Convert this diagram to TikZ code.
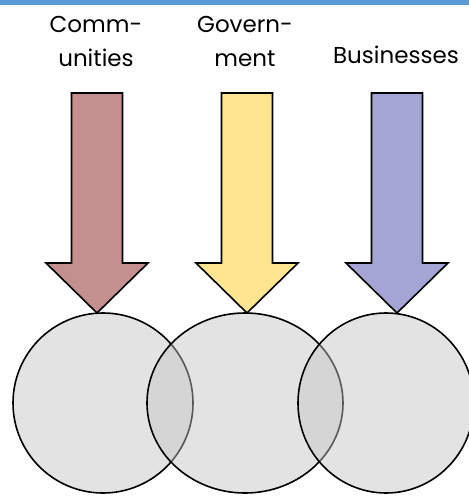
\documentclass[tikz,border=0pt]{standalone}
\usepackage{fontspec}
\setmainfont{Poppins}
\usetikzlibrary{positioning, shapes.geometric}
\definecolor{barblue}{RGB}{91,155,213}
\definecolor{commred}{RGB}{196,143,143}
\definecolor{govyellow}{RGB}{255,229,143}
\definecolor{busblue}{RGB}{165,165,213}
\definecolor{venngray}{RGB}{195,195,195}
\tikzset{
    lbl/.style={font=\fontsize{23}{34}\selectfont, align=center, anchor=base, inner sep=0pt},
    blockarr/.style={draw, line width=1.6pt, line join=miter},
    venn/.style={draw, line width=1.6pt, fill=venngray, fill opacity=0.46, draw opacity=1}
}

\begin{document}
\begin{tikzpicture}[x=1pt, y=-1pt]
    \useasboundingbox (0,0) rectangle (469,496);

    % top bar
    \fill[barblue] (0,0) rectangle (469,4.5);

    % labels
    \node[lbl] (comm) at (96,66) {Comm-\\unities};
    \node[lbl] (gov) at (245,66) {Govern-\\ment};
    \node[lbl] (bus) at (396,63) {Businesses};

    % arrows
    \foreach \x/\col in {97/commred, 247/govyellow, 397/busblue} {
        \draw[blockarr, fill=\col] (\x-25.5,93) -- (\x+25.5,93) -- (\x+25.5,263)
            -- (\x+51,263) -- (\x,313) -- (\x-51,263) -- (\x-25.5,263) -- cycle;
    }

    % circles
    \draw[venn] (103,403) ellipse [x radius=90, y radius=90];
    \draw[venn] (245,403) ellipse [x radius=98, y radius=90];
    \draw[venn] (386,403) ellipse [x radius=88, y radius=90];
\end{tikzpicture}
\end{document}
